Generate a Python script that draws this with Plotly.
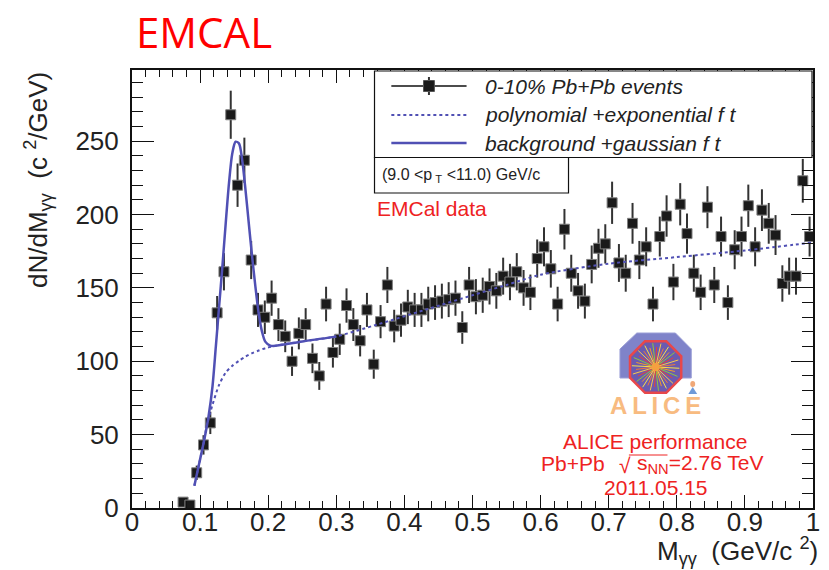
import math
import plotly.graph_objects as go

# ---------------- data ----------------
bin_centers = [round(0.075 + 0.01 * i, 3) for i in range(93)]
counts = [4, 2, 24, 43, 58, 133, 161, 268, 220, 237,
          169, 135, 130, 143, 125, 117, 100, 119, 125, 102,
          90, 139, 106, 115, 138, 125, 114, 135, 98, 127,
          152, 124, 128, 137, 135, 135, 139, 140, 141, 142,
          143, 123, 152, 144, 145, 151, 148, 158, 154, 161,
          150, 147, 170, 178, 163, 139, 190, 160, 148, 141,
          166, 177, 180, 208, 167, 160, 194, 169, 178, 139,
          185, 199, 154, 207, 187, 160, 147, 205, 152, 185,
          140, 176, 185, 206, 178, 203, 194, 186, 153, 158,
          158, 223, 185]
errors = [2.0, 1.4, 4.9, 6.6, 7.6, 11.5, 12.7, 16.4, 14.8, 15.4,
          13.0, 11.6, 11.4, 12.0, 11.2, 10.8, 10.0, 10.9, 11.2, 10.1,
          9.5, 11.8, 10.3, 10.7, 11.7, 11.2, 10.7, 11.6, 9.9, 11.3,
          12.3, 11.1, 11.3, 11.7, 11.6, 11.6, 11.8, 11.8, 11.9, 11.9,
          12.0, 11.1, 12.3, 12.0, 12.0, 12.3, 12.2, 12.6, 12.4, 12.7,
          12.2, 12.1, 13.0, 13.3, 12.8, 11.8, 13.8, 12.6, 12.2, 11.9,
          12.9, 13.3, 13.4, 14.4, 12.9, 12.6, 13.9, 13.0, 13.3, 11.8,
          13.6, 14.1, 12.4, 14.4, 13.7, 12.6, 12.1, 14.3, 12.3, 13.6,
          11.8, 13.3, 13.6, 14.4, 13.3, 14.2, 13.9, 13.6, 12.4, 12.6,
          12.6, 14.9, 13.6]

# background + gaussian fit
gaus_x = [0.0916, 0.0988, 0.1061, 0.1124, 0.1182, 0.1231, 0.1279, 0.1327,
          0.1376, 0.1424, 0.1473, 0.1521, 0.157, 0.1618, 0.1667, 0.1715,
          0.1764, 0.1812, 0.186, 0.1909, 0.1957, 0.203, 0.2103, 0.25, 0.2999]
gaus_y = [15.2, 30.6, 46.5, 62.4, 82.8, 110, 137.2, 164.5,
          194, 221.2, 241.7, 249.6, 248.5, 237.1, 216.7, 194,
          171.3, 150.9, 132.7, 120.2, 113.4, 110.7, 110.5, 113.5, 116.8]

# polynomial + exponential fit
poly_x = [0.0916, 0.0988, 0.1061, 0.1095, 0.1182, 0.1279, 0.1376, 0.1473,
          0.157, 0.1667, 0.1764, 0.186, 0.1957, 0.2103, 0.25, 0.30, 0.36,
          0.43, 0.50, 0.55, 0.60, 0.70, 0.80, 0.90, 1.0]
poly_y = [15.2, 30.6, 46.5, 55.5, 70.3, 83.9, 92.3, 96.9,
          100.3, 103.2, 105.5, 107.3, 108.9, 110.5, 113.5, 117, 125,
          135, 145, 152, 159, 166.5, 171, 175.5, 181]

legend_labels = ["0-10% Pb+Pb events", "polynomial +exponential f t",
                 "background +gaussian f t"]

# ---------------- geometry ----------------
W, H = 829, 570
L, R, T, B = 132, 9, 70, 62
PW, PH = W - L - R, H - T - B


def px(x):
    return (x - L) / PW


def py(y):
    return (H - B - y) / PH


BLUE = "#5050b4"
RED = "#ee2222"
TXT = "#222222"
FONT = "Liberation Sans"

fig = go.Figure()

fig.add_trace(go.Scatter(
    x=bin_centers, y=counts, mode="markers",
    error_y=dict(type="data", array=errors, color="#333333", thickness=2, width=0),
    marker=dict(symbol="square", size=10, color="#1a1a1a",
                line=dict(color="#808080", width=1)),
    showlegend=False, hoverinfo="skip"))

fig.add_trace(go.Scatter(
    x=poly_x, y=poly_y, mode="lines",
    line=dict(color=BLUE, width=2, dash="dot", shape="spline", smoothing=0.8),
    showlegend=False, hoverinfo="skip"))

fig.add_trace(go.Scatter(
    x=gaus_x, y=gaus_y, mode="lines",
    line=dict(color=BLUE, width=2.5, shape="spline", smoothing=0.8),
    showlegend=False, hoverinfo="skip"))

shapes = []
annotations = []


def ann(x, y, text, size, color=TXT, xanchor="left", family=FONT, yanchor="middle", **kw):
    annotations.append(dict(xref="paper", yref="paper", x=px(x), y=py(y),
                            xanchor=xanchor, yanchor=yanchor, showarrow=False,
                            text=text, font=dict(family=family, size=size, color=color),
                            **kw))


# ---- legend box ----
shapes.append(dict(type="rect", xref="paper", yref="paper",
                   x0=px(377), x1=px(819), y0=py(157.5), y1=py(71),
                   line=dict(color="#111", width=1.2), fillcolor="white", layer="above"))
ry = [86, 115, 143]
shapes.append(dict(type="line", xref="paper", yref="paper",
                   x0=px(394), x1=px(470), y0=py(ry[0]), y1=py(ry[0]),
                   line=dict(color="#111", width=1.3), layer="above"))
shapes.append(dict(type="line", xref="paper", yref="paper",
                   x0=px(432), x1=px(432), y0=py(ry[0] - 9), y1=py(ry[0] + 9),
                   line=dict(color="#333", width=2), layer="above"))
shapes.append(dict(type="rect", xref="paper", yref="paper",
                   x0=px(426.5), x1=px(437.5), y0=py(ry[0] + 5.5), y1=py(ry[0] - 5.5),
                   line=dict(color="#555", width=1), fillcolor="#1a1a1a", layer="above"))
shapes.append(dict(type="line", xref="paper", yref="paper",
                   x0=px(394), x1=px(470), y0=py(ry[1]), y1=py(ry[1]),
                   line=dict(color=BLUE, width=2, dash="dot"), layer="above"))
shapes.append(dict(type="line", xref="paper", yref="paper",
                   x0=px(394), x1=px(470), y0=py(ry[2]), y1=py(ry[2]),
                   line=dict(color=BLUE, width=2.5), layer="above"))
for lab, yy in zip(legend_labels, ry):
    ann(487, yy, "<i>" + lab + "</i>", 21)

# ---- pT box ----
shapes.append(dict(type="rect", xref="paper", yref="paper",
                   x0=px(377), x1=px(573), y0=py(193), y1=py(157.5),
                   line=dict(color="#111", width=1.2), fillcolor="white", layer="above"))
ann(383, 175, "(9.0 &lt;p<sub>\u00a0T</sub> &lt;11.0) GeV/c", 16)
ann(377, 208, "EMCal data", 21, color=RED)

# ---- title ----
ann(134, 1, "EMCAL", 42, color="#ff0000", family="Open Sans", yanchor="top")

# ---- axis titles ----
ann(37, 180, "dN/dM<sub>γγ</sub>\u00a0\u00a0(c\u00a0<sup>2</sup>/GeV)", 26,
    xanchor="center", textangle=-90)
ann(826, 570, "M<sub>γγ</sub>\u00a0\u00a0(GeV/c\u00a0<sup>2</sup>)", 26, xanchor="right",
    yanchor="bottom", borderpad=0)

# ---- ALICE performance text ----
ann(660, 441.5, "ALICE performance", 21, color=RED, xanchor="center")
ann(543, 463.5, "Pb+Pb", 21, color=RED)
ann(622, 465, "\u221a", 21, color=RED)
ann(640, 463.5, "s<sub>NN</sub>=2.76 TeV", 21, color=RED)
shapes.append(dict(type="line", xref="paper", yref="paper",
                   x0=px(634), x1=px(673), y0=py(455), y1=py(455),
                   line=dict(color=RED, width=1), layer="above"))
ann(661.5, 487, "2011.05.15", 21, color=RED, xanchor="center")


# ---- ALICE logo (decoration) ----
def path(points):
    return "M " + " L ".join(f"{px(a):.5f},{py(b):.5f}" for a, b in points) + " Z"


shapes.append(dict(type="path", xref="paper", yref="paper",
                   path=path([(642, 333), (681, 333), (697, 349), (697, 378),
                              (625, 378), (625, 349)]),
                   fillcolor="#7f83c9", line=dict(color="#9a9ed6", width=1), layer="above"))
cx, cy, rr = 661, 367, 28
octo = [(cx + rr * math.cos(math.radians(22.5 + 45 * k)),
         cy + rr * math.sin(math.radians(22.5 + 45 * k))) for k in range(8)]
shapes.append(dict(type="path", xref="paper", yref="paper", path=path(octo),
                   fillcolor="#6a5bb0", line=dict(color="#e8474a", width=2.5), layer="above"))
ray_cols = ["#f7e04a", "#f39a2b", "#8cc63f", "#e8403a", "#f9c84a", "#f07a3a"]
for k in range(36):
    a = math.radians(k * 10 + 3)
    rlen = 24 if k % 2 == 0 else 20
    shapes.append(dict(type="line", xref="paper", yref="paper",
                       x0=px(cx), y0=py(cy),
                       x1=px(cx + rlen * math.cos(a)), y1=py(cy + rlen * math.sin(a)),
                       line=dict(color=ray_cols[k % len(ray_cols)], width=1), layer="above"))
shapes.append(dict(type="circle", xref="paper", yref="paper",
                   x0=px(cx - 4), x1=px(cx + 4), y0=py(cy + 4), y1=py(cy - 4),
                   fillcolor="#f5a040", line=dict(width=0), layer="above"))
shapes.append(dict(type="circle", xref="paper", yref="paper",
                   x0=px(696), x1=px(701), y0=py(387), y1=py(381),
                   fillcolor="#f0a878", line=dict(width=0), layer="above"))
shapes.append(dict(type="path", xref="paper", yref="paper",
                   path=path([(698.5, 387), (694, 394), (703, 394)]),
                   fillcolor="#6f9ad8", line=dict(width=0), layer="above"))
ann(661, 405, "<b>A\u2009L\u2009I\u2009C\u2009E</b>", 24, color="#f8bb80", xanchor="center")

axis_common = dict(showline=True, linecolor="#111", linewidth=2, mirror="allticks",
                   ticks="inside", tickcolor="#111", tickwidth=1.3,
                   showgrid=False, zeroline=False,
                   tickfont=dict(family=FONT, size=26, color=TXT))

fig.update_xaxes(range=[0, 1], dtick=0.1, tick0=0, ticklen=13,
                 minor=dict(ticks="inside", dtick=0.02, ticklen=7, tickcolor="#111"),
                 ticklabelstandoff=-10, **axis_common)
fig.update_yaxes(range=[0, 298.5], dtick=50, tick0=0, ticklen=22,
                 minor=dict(ticks="inside", dtick=10, ticklen=11, tickcolor="#111"),
                 ticklabelstandoff=6, **axis_common)

fig.update_layout(width=W, height=H, margin=dict(l=L, r=R, t=T, b=B),
                  paper_bgcolor="white", plot_bgcolor="white",
                  shapes=shapes, annotations=annotations, showlegend=False)

fig.write_html("out.html")
